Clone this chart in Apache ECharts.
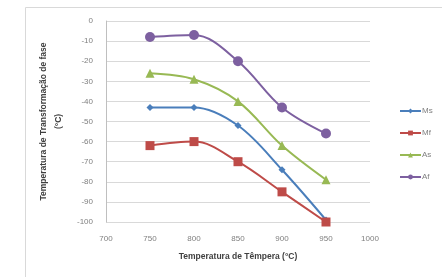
<!DOCTYPE html>
<html>
<head>
<meta charset="utf-8">
<script src="https://cdn.jsdelivr.net/npm/echarts@6/dist/echarts.min.js"></script>
<style>
  html, body { margin: 0; padding: 0; background: #fff; }
  #chart { width: 442px; height: 277px; }
</style>
</head>
<body>
<div id="chart"></div>
<script>
// temperatures de tempera (°C)
var tempera = [750, 800, 850, 900, 950];
var ms = [-43, -43, -52, -74, -99];
var mf = [-62, -60, -70, -85, -100];
var as = [-26, -29, -40, -62, -79];
var af = [-8, -7, -20, -43, -56];

function pairs(vals) {
	return tempera.map(function (t, i) { return [t, vals[i]]; });
}

function serie(name, vals, color, symbol, size) {
	return {
		name: name,
		type: 'line',
		smooth: 0.35,
		data: pairs(vals),
		symbol: symbol,
		symbolSize: size,
		color: color,
		lineStyle: { width: 2, color: color },
		itemStyle: { color: color }
	};
}

var chart = echarts.init(document.getElementById('chart'));
var labelStyle = { color: '#7f7f7f', fontSize: 8, fontFamily: 'Liberation Sans' };

chart.setOption({
	animation: false,
	graphic: [{
		type: 'rect',
		shape: { x: 25.5, y: 7.5, width: 440, height: 300 },
		style: { fill: 'none', stroke: '#d9d9d9', lineWidth: 1 }
	}],
	grid: { left: 106, right: 72, top: 21, bottom: 55 },
	legend: {
		orient: 'vertical',
		left: 394,
		top: 102,
		itemGap: 14,
		itemWidth: 21,
		itemHeight: 6,
		textStyle: { color: '#7f7f7f', fontSize: 8, fontFamily: 'Liberation Sans', padding: [0, 0, 0, -4] },
		data: ['Ms', 'Mf', 'As', 'Af']
	},
	xAxis: {
		type: 'value',
		min: 700,
		max: 1000,
		interval: 50,
		name: 'Temperatura de Têmpera (°C)',
		nameLocation: 'middle',
		nameGap: 30,
		nameTextStyle: { color: '#404040', fontSize: 8.5, fontWeight: 'bold', fontFamily: 'Liberation Sans' },
		axisLine: { show: false },
		axisTick: { show: false },
		splitLine: { show: false },
		axisLabel: Object.assign({ margin: 13, formatter: function (v) { return String(v); } }, labelStyle)
	},
	yAxis: {
		type: 'value',
		min: -100,
		max: 0,
		interval: 10,
		name: 'Temperatura de Transformação de fase\n(°C)',
		nameLocation: 'middle',
		nameRotate: 90,
		nameGap: 32,
		nameTextStyle: { color: '#404040', fontSize: 8.5, fontWeight: 'bold', fontFamily: 'Liberation Sans', lineHeight: 15 },
		axisLine: { show: true, lineStyle: { color: '#bfbfbf' } },
		axisTick: { show: false },
		splitLine: { lineStyle: { color: '#d9d9d9' } },
		axisLabel: Object.assign({ margin: 13 }, labelStyle)
	},
	series: [
		serie('Ms', ms, '#4a7ebb', 'diamond', 7),
		serie('Mf', mf, '#be4b48', 'rect', 9),
		serie('As', as, '#98b954', 'triangle', 9),
		serie('Af', af, '#7d60a0', 'circle', 10)
	]
});
</script>
</body>
</html>
